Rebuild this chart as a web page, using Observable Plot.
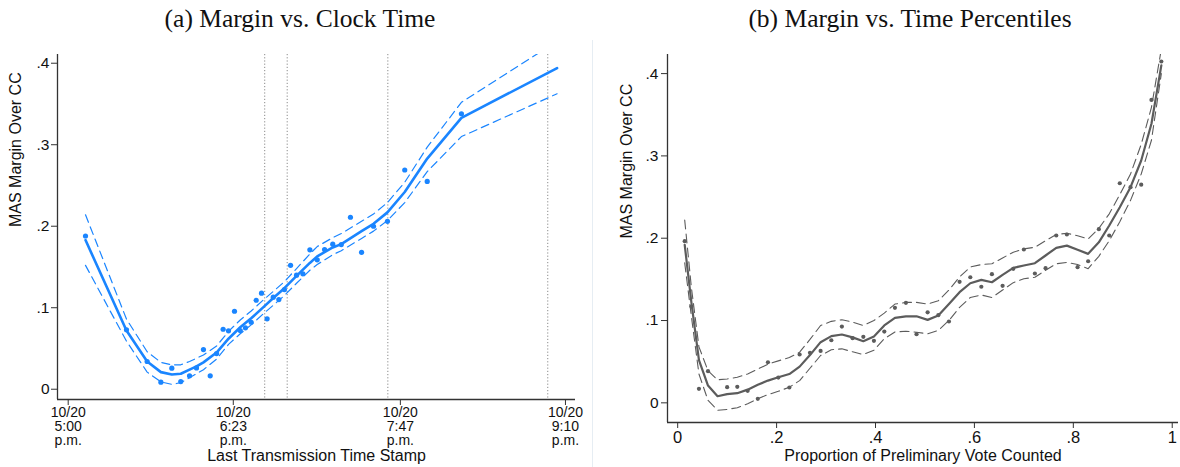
<!DOCTYPE html>
<html>
<head>
<meta charset="utf-8">
<script src="https://cdn.jsdelivr.net/npm/d3@7"></script>
<script src="https://cdn.jsdelivr.net/npm/@observablehq/plot@0.6"></script>
<style>
  html, body { margin: 0; padding: 0; background: #fff; }
  #page { position: relative; width: 1180px; height: 467px; overflow: hidden; background: #fff; }
  .title { position: absolute; top: 6px; font-family: "Liberation Serif", "DejaVu Serif", serif; font-size: 25.5px; line-height: 1; color: #111; white-space: nowrap; transform: translateX(-50%); }
  .panel { position: absolute; top: 40px; }
  #sep { position: absolute; left: 592px; top: 40px; width: 1px; height: 427px; background: #e6edf3; }
</style>
</head>
<body>
<div id="page">
  <div class="title" style="left:300px">(a) Margin vs. Clock Time</div>
  <div class="title" style="left:910px">(b) Margin vs. Time Percentiles</div>
  <div id="sep"></div>
  <div class="panel" id="left" style="left:0px"></div>
  <div class="panel" id="right" style="left:590px"></div>
</div>
<script>
// ---------- Panel (a): margin vs clock time (minutes after 10/20 5:00 p.m.) ----------
const leftDotMinutes = [8.7, 29.3, 39.7, 46.6, 52.1, 56.6, 61.0, 64.5, 68.0, 71.4, 74.6, 77.9, 80.6, 83.6, 86.5, 89.1, 92.0, 94.5, 97.2, 100.0, 103.1, 105.9, 108.7, 111.8, 114.8, 118.0, 121.5, 125.2, 128.9, 133.0, 137.3, 141.9, 147.5, 153.5, 160.5, 169.2, 180.5, 197.7];
const leftDotMargin = [0.188, 0.073, 0.034, 0.0086, 0.0258, 0.0094, 0.0164, 0.0262, 0.0487, 0.0164, 0.0438, 0.0736, 0.0716, 0.0957, 0.072, 0.0753, 0.0822, 0.1092, 0.1178, 0.0864, 0.1129, 0.110, 0.1223, 0.152, 0.140, 0.1416, 0.171, 0.1588, 0.1714, 0.178, 0.1775, 0.211, 0.168, 0.200, 0.206, 0.269, 0.255, 0.338];

const leftFitMinutes = [8.7, 29.3, 39.7, 46.6, 52.1, 56.6, 61.0, 64.5, 68.0, 74.6, 80.6, 86.5, 92.0, 98.3, 103.1, 108.7, 114.8, 121.5, 125.2, 133.0, 137.3, 147.5, 153.5, 160.5, 169.2, 180.5, 197.7, 245.8];
const leftFit   = [0.183, 0.072, 0.034, 0.021, 0.018, 0.019, 0.024, 0.028, 0.033, 0.045, 0.062, 0.076, 0.087, 0.101, 0.112, 0.124, 0.139, 0.155, 0.163, 0.174, 0.178, 0.194, 0.203, 0.217, 0.242, 0.283, 0.333, 0.394];
const leftLower = [0.152, 0.059, 0.021, 0.009, 0.006, 0.008, 0.014, 0.019, 0.024, 0.037, 0.055, 0.068, 0.079, 0.093, 0.103, 0.115, 0.130, 0.146, 0.153, 0.165, 0.170, 0.185, 0.194, 0.207, 0.229, 0.267, 0.310, 0.3625];
const leftUpper = [0.214, 0.086, 0.046, 0.033, 0.030, 0.030, 0.034, 0.038, 0.042, 0.053, 0.071, 0.085, 0.096, 0.110, 0.120, 0.132, 0.148, 0.166, 0.175, 0.186, 0.191, 0.206, 0.215, 0.229, 0.254, 0.297, 0.352, 0.427];

const leftRefMinutes = [98.8, 110.1, 160.7, 241.1];
const leftTickMinutes = [0, 83, 167, 250];
const leftTickLabels = ["10/20\n5:00\np.m.", "10/20\n6:23\np.m.", "10/20\n7:47\np.m.", "10/20\n9:10\np.m."];
const marginTicks = [0, 0.1, 0.2, 0.3, 0.4];

// ---------- Panel (b): margin vs share of preliminary vote counted ----------
const rightDotShare = [0.0142, 0.0277, 0.043, 0.0613, 0.1, 0.1205, 0.1415, 0.162, 0.1825, 0.2035, 0.2258, 0.2466, 0.2675, 0.289, 0.3107, 0.332, 0.3537, 0.3754, 0.3968, 0.4178, 0.4393, 0.4615, 0.483, 0.5054, 0.527, 0.5485, 0.570, 0.5917, 0.614, 0.6354, 0.657, 0.6786, 0.700, 0.7223, 0.7439, 0.7655, 0.787, 0.8086, 0.830, 0.8516, 0.8727, 0.894, 0.9157, 0.9373, 0.958, 0.978];
const rightDotMargin = [0.1964, 0.117, 0.017, 0.0384, 0.019, 0.0194, 0.0146, 0.0049, 0.0493, 0.0307, 0.0186, 0.0587, 0.0607, 0.0630, 0.076, 0.0927, 0.0785, 0.0802, 0.0753, 0.0866, 0.1154, 0.1215, 0.0834, 0.110, 0.1065, 0.0988, 0.147, 0.1526, 0.141, 0.1563, 0.1422, 0.1628, 0.1863, 0.1571, 0.1636, 0.2033, 0.2045, 0.1648, 0.172, 0.211, 0.2033, 0.2668, 0.262, 0.265, 0.368, 0.4147];

const rightFitShare = [0.0142, 0.0277, 0.043, 0.0613, 0.0806, 0.1, 0.1205, 0.1415, 0.162, 0.1825, 0.2035, 0.2258, 0.2466, 0.2675, 0.289, 0.3107, 0.332, 0.3537, 0.3754, 0.3968, 0.4178, 0.4393, 0.4615, 0.483, 0.5054, 0.527, 0.5485, 0.570, 0.5917, 0.614, 0.6354, 0.657, 0.6786, 0.700, 0.7223, 0.7439, 0.7655, 0.787, 0.8086, 0.830, 0.8516, 0.8727, 0.894, 0.9157, 0.9373, 0.958, 0.978];
const rightFit   = [0.192, 0.122, 0.052, 0.021, 0.008, 0.0105, 0.0117, 0.016, 0.0219, 0.027, 0.031, 0.035, 0.044, 0.058, 0.0737, 0.081, 0.083, 0.0795, 0.0749, 0.0806, 0.094, 0.1033, 0.105, 0.1052, 0.1008, 0.106, 0.120, 0.1344, 0.1453, 0.1494, 0.1465, 0.1555, 0.164, 0.1668, 0.1696, 0.179, 0.1883, 0.191, 0.186, 0.181, 0.195, 0.2154, 0.2377, 0.262, 0.2944, 0.339, 0.41];
const rightLower = [0.170, 0.105, 0.035, 0.003, -0.009, -0.008, -0.006, -0.001, 0.005, 0.010, 0.014, 0.019, 0.027, 0.042, 0.0575, 0.0645, 0.0656, 0.062, 0.0587, 0.064, 0.0778, 0.086, 0.087, 0.0858, 0.0838, 0.088, 0.100, 0.116, 0.128, 0.131, 0.128, 0.137, 0.146, 0.1507, 0.1526, 0.161, 0.169, 0.1705, 0.168, 0.163, 0.178, 0.197, 0.220, 0.246, 0.278, 0.319, 0.400];
const rightUpper = [0.222, 0.140, 0.068, 0.039, 0.028, 0.029, 0.031, 0.035, 0.041, 0.047, 0.051, 0.055, 0.0615, 0.077, 0.094, 0.099, 0.101, 0.098, 0.094, 0.100, 0.109, 0.120, 0.122, 0.122, 0.120, 0.124, 0.137, 0.153, 0.165, 0.168, 0.169, 0.176, 0.183, 0.187, 0.189, 0.197, 0.2045, 0.206, 0.203, 0.199, 0.212, 0.2296, 0.253, 0.278, 0.314, 0.359, 0.43];
const rightTicks = [0, 0.2, 0.4, 0.6, 0.8, 1];

// ---------- helpers ----------
const stataFmt = d => d === 0 ? "0" : (Math.abs(d - 1) < 1e-9 ? "1" : d3.format(".1f")(d).replace(/^0/, ""));
const zipXY = (xs, ys) => xs.map((x, i) => ({x, y: ys[i]}));

const blue = "#1a85ff";
const grey = "#5c5c5c";
const axisColor = "#333";

// ---------- Panel (a) ----------
const lxDom = [-5.38, 255.05];
const lyDom = [-0.0126, 0.4107];
const leftPlot = Plot.plot({
  width: 590, height: 427,
  marginLeft: 57, marginRight: 15, marginTop: 14, marginBottom: 68,
  style: {fontFamily: "Liberation Sans, Arial, sans-serif", fontSize: "15px", color: "#111", background: "transparent", overflow: "visible"},
  x: {domain: lxDom},
  y: {domain: lyDom},
  marks: [
    Plot.ruleX(leftRefMinutes, {stroke: "#8a8a8a", strokeWidth: 1, strokeDasharray: "1.2,2"}),
    Plot.line(zipXY(leftFitMinutes, leftUpper), {x: "x", y: "y", stroke: blue, strokeWidth: 1.2, strokeDasharray: "8,5", clip: true}),
    Plot.line(zipXY(leftFitMinutes, leftLower), {x: "x", y: "y", stroke: blue, strokeWidth: 1.2, strokeDasharray: "8,5", clip: true}),
    Plot.line(zipXY(leftFitMinutes, leftFit), {x: "x", y: "y", stroke: blue, strokeWidth: 2.6, clip: true}),
    Plot.dot(zipXY(leftDotMinutes, leftDotMargin), {x: "x", y: "y", r: 2.6, fill: blue, stroke: "none"}),
    Plot.ruleX([lxDom[0]], {stroke: axisColor, strokeWidth: 1.3}),
    Plot.ruleY([lyDom[0]], {stroke: axisColor, strokeWidth: 1.3}),
    Plot.axisY({ticks: marginTicks, tickFormat: stataFmt, tickSize: 6, tickPadding: 2, label: null, fontSize: 15.5, stroke: axisColor}),
    Plot.axisX({ticks: leftTickMinutes, tickFormat: d => leftTickLabels[leftTickMinutes.indexOf(d)], tickSize: 6, tickPadding: 2, label: null, fontSize: 14, lineHeight: 0.98, stroke: axisColor}),
    Plot.text(["MAS Margin Over CC"], {frameAnchor: "left", dx: -42, rotate: -90, fontSize: 16, fill: "#111"}),
    Plot.text(["Last Transmission Time Stamp"], {frameAnchor: "bottom", dy: 61, fontSize: 16, fill: "#111"})
  ]
});
document.getElementById("left").appendChild(leftPlot);

// ---------- Panel (b) ----------
const rxDom = [-0.0206, 1.0127];
const ryDom = [-0.0239, 0.4232];
const rightPlot = Plot.plot({
  width: 590, height: 427,
  marginLeft: 77, marginRight: 2, marginTop: 14, marginBottom: 45,
  style: {fontFamily: "Liberation Sans, Arial, sans-serif", fontSize: "16px", color: "#111", background: "transparent", overflow: "visible"},
  x: {domain: rxDom},
  y: {domain: ryDom},
  marks: [
    Plot.line(zipXY(rightFitShare, rightUpper), {x: "x", y: "y", stroke: grey, strokeWidth: 1.1, strokeDasharray: "9,5", clip: true}),
    Plot.line(zipXY(rightFitShare, rightLower), {x: "x", y: "y", stroke: grey, strokeWidth: 1.1, strokeDasharray: "9,5", clip: true}),
    Plot.line(zipXY(rightFitShare, rightFit), {x: "x", y: "y", stroke: grey, strokeWidth: 2.2, clip: true}),
    Plot.dot(zipXY(rightDotShare, rightDotMargin), {x: "x", y: "y", r: 2.1, fill: grey, stroke: "none"}),
    Plot.ruleX([rxDom[0]], {stroke: axisColor, strokeWidth: 1.3}),
    Plot.ruleY([ryDom[0]], {stroke: axisColor, strokeWidth: 1.3}),
    Plot.axisY({ticks: marginTicks, tickFormat: stataFmt, tickSize: 6, tickPadding: 3, label: null, fontSize: 15.5, stroke: axisColor}),
    Plot.axisX({ticks: rightTicks, tickFormat: stataFmt, tickSize: 6, tickPadding: 3, label: null, fontSize: 16.5, stroke: axisColor}),
    Plot.text(["MAS Margin Over CC"], {frameAnchor: "left", dx: -41, rotate: -90, fontSize: 16, fill: "#111"}),
    Plot.text(["Proportion of Preliminary Vote Counted"], {frameAnchor: "bottom", dy: 38, fontSize: 16, fill: "#111"})
  ]
});
document.getElementById("right").appendChild(rightPlot);
</script>
</body>
</html>
